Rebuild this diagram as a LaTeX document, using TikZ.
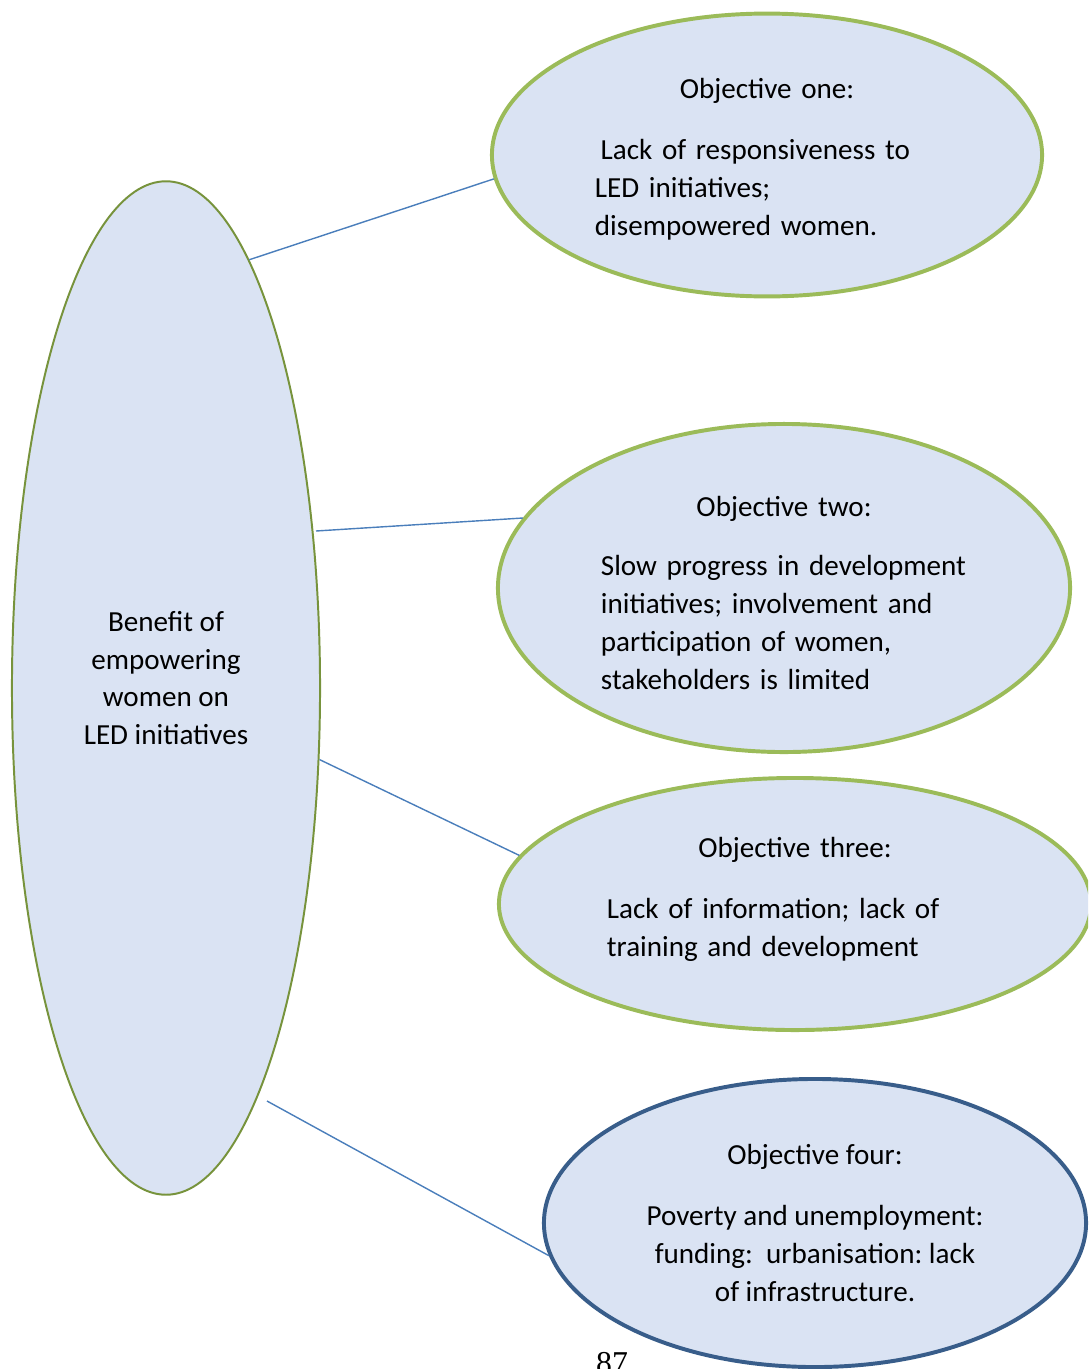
\documentclass[tikz,border=0pt]{standalone}
\usepackage{fontspec}
\setmainfont{Carlito}
\newfontfamily\pagefont{Liberation Serif}
\usepackage{xcolor}
\usetikzlibrary{shapes,shapes.geometric,calc,positioning}
\setlength{\parindent}{0pt}
\frenchspacing
\definecolor{fillblue}{HTML}{DAE3F3}
\definecolor{objgreen}{HTML}{9BBB59}
\definecolor{oliveline}{HTML}{77933C}
\definecolor{darkblue}{HTML}{385D8A}
\definecolor{linkblue}{HTML}{4A7EBB}
% struts that fix where the text sits in an ellipse
\newcommand{\topstrut}{\rule{0pt}{26.3pt}}
\newcommand{\botstrut}[1]{\rule[-#1]{0pt}{#1}}

\begin{document}
\begin{tikzpicture}[x=0.025cm,y=-0.025cm,
	obj/.style={ellipse,draw=objgreen,line width=2.8pt,fill=fillblue,inner sep=0pt,
		font=\fontsize{20.7}{27}\selectfont},
	link/.style={draw=linkblue,line width=1pt}]
		\useasboundingbox (0,0) rectangle (1088,1369);
		\clip (0,0) rectangle (1088,1369);
		% centre
		\node[obj,draw=oliveline,line width=1.4pt,minimum width=7.7cm,minimum height=25.33cm,align=center]
			(benefit) at (166,688) {\topstrut Benefit of\\empowering\\women on\\LED initiatives\botstrut{26.3pt}};
		% objectives
		\node[obj,minimum width=13.75cm,minimum height=7.07cm,text width=8.6cm]
			(one) at (767,155) {\centering\topstrut Objective one:\par\vspace{16pt}\raggedright
			\hspace{4pt}Lack of responsiveness to\\LED initiatives;\\disempowered women.\botstrut{9.2pt}};
		\node[obj,minimum width=14.3cm,minimum height=8.2cm,text width=9.15cm]
			(two) at (784,588) {\centering\topstrut Objective two:\par\vspace{15pt}\raggedright
			Slow progress in development\\initiatives; involvement and\\participation of women,\\stakeholders is limited\botstrut{4.9pt}};
		\node[obj,minimum width=14.8cm,minimum height=6.3cm,text width=9.4cm]
			(three) at (795,904) {\centering\topstrut Objective three:\par\vspace{16pt}\raggedright
			Lack of information; lack of\\training and development\botstrut{22pt}};
		\node[obj,draw=darkblue,minimum width=13.55cm,minimum height=7.2cm,align=center]
			(four) at (815,1223) {\topstrut Objective four:\\[16pt]Poverty and unemployment:\\funding:\ \ urbanisation: lack\\of infrastructure.\botstrut{12pt}};
		\node[font=\pagefont\fontsize{22.6}{27}\selectfont,anchor=base] (page) at (612,1373) {87};
		% links
		\coordinate (gap2) at (316,531);
		\coordinate (gap4) at (267,1101);
		\draw[link] (benefit.79) -- (one.185);
		\draw[link] (gap2) -- (two.165);
		\draw[link] (benefit.-25) -- (three.170);
		\draw[link] (gap4) -- (four.187);
\end{tikzpicture}
\end{document}
